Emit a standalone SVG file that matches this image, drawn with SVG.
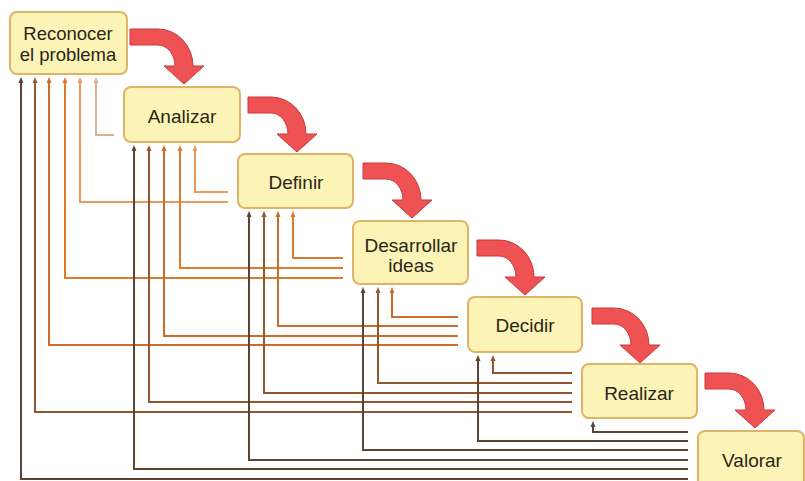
<svg xmlns="http://www.w3.org/2000/svg" width="805" height="481" viewBox="0 0 805 481">
<style>
.box{fill:#fcf4b6;stroke:#e0b468;stroke-width:2}
.lbl{font-family:"Liberation Sans",Arial,sans-serif;font-size:19px;fill:#2a2618;text-anchor:middle}
.fb{fill:none;stroke-width:2}
.c1{stroke:#dcb08e}.c2{stroke:#e99a5c}.c3{stroke:#e07a2c}.c4{stroke:#c96c2c}.c5{stroke:#95572f}.c6{stroke:#5b4434}
.flow{fill:#ef5252;stroke:#c93a3a;stroke-width:1}
</style>
<defs>
<marker id="m1" viewBox="0 0 6 6" refX="3" refY="3" markerWidth="6" markerHeight="6" markerUnits="userSpaceOnUse" orient="auto"><path d="M0,0.5 L6,3 L0,5.5 z" fill="#dcb08e"/></marker>
<marker id="m2" viewBox="0 0 6 6" refX="3" refY="3" markerWidth="6" markerHeight="6" markerUnits="userSpaceOnUse" orient="auto"><path d="M0,0.5 L6,3 L0,5.5 z" fill="#e99a5c"/></marker>
<marker id="m3" viewBox="0 0 6 6" refX="3" refY="3" markerWidth="6" markerHeight="6" markerUnits="userSpaceOnUse" orient="auto"><path d="M0,0.5 L6,3 L0,5.5 z" fill="#e07a2c"/></marker>
<marker id="m4" viewBox="0 0 6 6" refX="3" refY="3" markerWidth="6" markerHeight="6" markerUnits="userSpaceOnUse" orient="auto"><path d="M0,0.5 L6,3 L0,5.5 z" fill="#c96c2c"/></marker>
<marker id="m5" viewBox="0 0 6 6" refX="3" refY="3" markerWidth="6" markerHeight="6" markerUnits="userSpaceOnUse" orient="auto"><path d="M0,0.5 L6,3 L0,5.5 z" fill="#95572f"/></marker>
<marker id="m6" viewBox="0 0 6 6" refX="3" refY="3" markerWidth="6" markerHeight="6" markerUnits="userSpaceOnUse" orient="auto"><path d="M0,0.5 L6,3 L0,5.5 z" fill="#5b4434"/></marker>
</defs>
<rect width="805" height="481" fill="#ffffff"/>
<g id="connectors">
<path class="fb c1" marker-end="url(#m1)" d="M114,135 H96 V80"/>
<path class="fb c2" marker-end="url(#m2)" d="M228,192 H195 V148"/>
<path class="fb c2" marker-end="url(#m2)" d="M228,202 H80 V80"/>
<path class="fb c3" marker-end="url(#m3)" d="M343,258 H293 V214"/>
<path class="fb c3" marker-end="url(#m3)" d="M343,268 H180 V148"/>
<path class="fb c3" marker-end="url(#m3)" d="M343,278 H65 V80"/>
<path class="fb c4" marker-end="url(#m4)" d="M458,317 H392 V290"/>
<path class="fb c4" marker-end="url(#m4)" d="M458,326 H278 V214"/>
<path class="fb c4" marker-end="url(#m4)" d="M458,336 H164 V148"/>
<path class="fb c4" marker-end="url(#m4)" d="M458,345 H49 V80"/>
<path class="fb c5" marker-end="url(#m5)" d="M572,373 H493 V358"/>
<path class="fb c5" marker-end="url(#m5)" d="M572,383 H378 V290"/>
<path class="fb c5" marker-end="url(#m5)" d="M572,393 H264 V214"/>
<path class="fb c5" marker-end="url(#m5)" d="M572,402 H149 V148"/>
<path class="fb c5" marker-end="url(#m5)" d="M572,412 H35 V80"/>
<path class="fb c6" marker-end="url(#m6)" d="M688,432 H593 V424"/>
<path class="fb c6" marker-end="url(#m6)" d="M688,441 H478 V358"/>
<path class="fb c6" marker-end="url(#m6)" d="M688,450 H363 V290"/>
<path class="fb c6" marker-end="url(#m6)" d="M688,460 H249 V214"/>
<path class="fb c6" marker-end="url(#m6)" d="M688,469 H134 V148"/>
<path class="fb c6" marker-end="url(#m6)" d="M688,479 H21 V80"/>
<path class="flow" d="M130,29 H158 A35,37 0 0 1 193,66 H204 L184,84 L164,66 H175 A17,21 0 0 0 158,45 H130 Z"/>
<path class="flow" d="M248,97 H271 A35,37 0 0 1 306,134 H317 L297,152 L277,134 H288 A17,21 0 0 0 271,113 H248 Z"/>
<path class="flow" d="M363,163 H386 A35,37 0 0 1 421,200 H432 L412,218 L392,200 H403 A17,21 0 0 0 386,179 H363 Z"/>
<path class="flow" d="M477,240 H499 A35,37 0 0 1 534,277 H545 L525,295 L505,277 H516 A17,21 0 0 0 499,256 H477 Z"/>
<path class="flow" d="M592,308 H614 A35,37 0 0 1 649,345 H660 L640,363 L620,345 H631 A17,21 0 0 0 614,324 H592 Z"/>
<path class="flow" d="M705,373 H729 A35,37 0 0 1 764,410 H775 L755,428 L735,410 H746 A17,21 0 0 0 729,389 H705 Z"/>
</g>
<g id="n1"><rect class="box" x="10" y="12" width="117" height="62" rx="7"/><text class="lbl" x="68" y="40" style="font-size:18.5px">Reconocer</text><text class="lbl" x="68" y="61" style="font-size:18.5px">el problema</text></g>
<g id="n2"><rect class="box" x="124" y="87" width="116" height="55" rx="7"/><text class="lbl" x="182" y="123">Analizar</text></g>
<g id="n3"><rect class="box" x="238" y="154" width="115" height="54" rx="7"/><text class="lbl" x="296" y="189">Definir</text></g>
<g id="n4"><rect class="box" x="353" y="221" width="115" height="63" rx="7"/><text class="lbl" x="411" y="252">Desarrollar</text><text class="lbl" x="411" y="272">ideas</text></g>
<g id="n5"><rect class="box" x="468" y="297" width="114" height="55" rx="7"/><text class="lbl" x="525" y="332">Decidir</text></g>
<g id="n6"><rect class="box" x="582" y="364" width="115" height="54" rx="7"/><text class="lbl" x="639" y="400">Realizar</text></g>
<g id="n7"><rect class="box" x="698" y="431" width="106" height="60" rx="7"/><text class="lbl" x="752" y="467">Valorar</text></g>
</svg>
